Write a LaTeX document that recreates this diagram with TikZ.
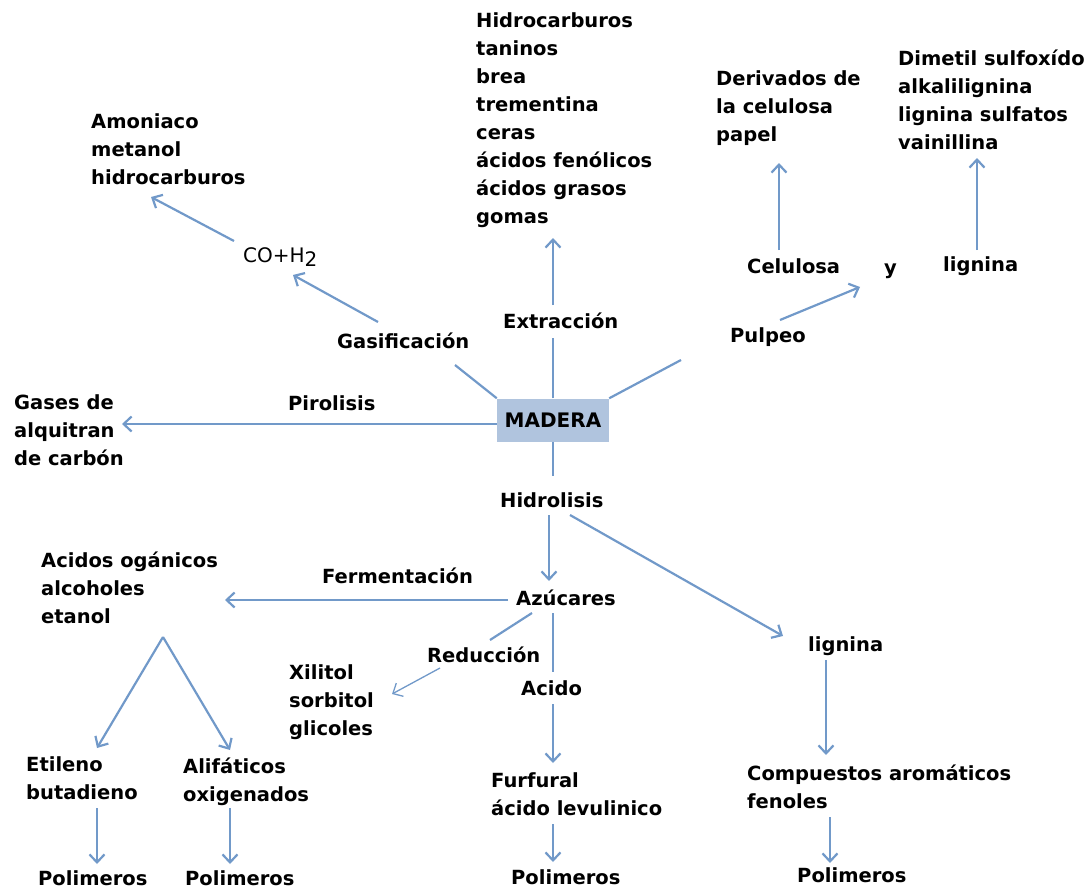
\documentclass[tikz,border=0pt]{standalone}
\usepackage{fontspec}
\setmainfont{DejaVu Sans}
\usepackage{xcolor}
\usetikzlibrary{arrows.meta,positioning,calc}

\definecolor{linkblue}{RGB}{113,153,201}
\definecolor{boxblue}{RGB}{176,196,222}

\tikzset{
    lbl/.style={anchor=west, inner sep=0pt, align=left, font=\fontsize{19.5}{28}\selectfont\bfseries},
    link/.style={draw=linkblue, line width=2.2pt},
    arr/.style={link, -{Straight Barb[length=8pt,width=15pt]}}
}

\begin{document}
\begin{tikzpicture}[x=1pt, y=-1pt]
    \useasboundingbox (0,0) rectangle (1088,891);

    \node[fill=boxblue, minimum width=112pt, minimum height=43pt, inner sep=0pt,
          font=\fontsize{20}{28}\selectfont\bfseries] (madera) at (553,420) {MADERA};

    % upper half
    \node[lbl] (gasif) at (337,341) {Gasificación};
    \node[lbl, font=\fontsize{20}{28}\selectfont] (coh) at (243,257) {CO+H\raisebox{-4pt}{2}};
    \node[lbl] (amon) at (91,149) {Amoniaco\\metanol\\hidrocarburos};
    \node[lbl] (extr) at (503,321) {Extracción};
    \node[lbl] (hidroc) at (476,120) {Hidrocarburos\\taninos\\brea\\trementina\\ceras\\ácidos fenólicos\\ácidos grasos\\gomas};
    \node[lbl] (pulp) at (730,337) {Pulpeo};
    \node[lbl] (cel) at (747,266) {Celulosa};
    \node[lbl] (yy) at (884,271) {y};
    \node[lbl] (lig) at (943,266) {lignina};
    \node[lbl] (deriv) at (716,108) {Derivados de\\la celulosa\\papel};
    \node[lbl] (dim) at (898,100) {Dimetil sulfoxído\\alkalilignina\\lignina sulfatos\\vainillina};
    \node[lbl] (piro) at (288,403) {Pirolisis};
    \node[lbl] (gases) at (14,430) {Gases de\\alquitran\\de carbón};

    % lower half
    \node[lbl] (hidrol) at (500,500) {Hidrolisis};
    \node[lbl] (ferm) at (322,576) {Fermentación};
    \node[lbl] (azuc) at (516,598) {Azúcares};
    \node[lbl] (acid) at (41,588) {Acidos ogánicos\\alcoholes\\etanol};
    \node[lbl] (reduc) at (427,655) {Reducción};
    \node[lbl] (xil) at (289,702) {Xilitol\\sorbitol\\glicoles};
    \node[lbl] (acido) at (521,688) {Acido};
    \node[lbl] (ligb) at (808,646) {lignina};
    \node[lbl] (etil) at (26,778) {Etileno\\butadieno};
    \node[lbl] (alif) at (183,782) {Alifáticos\\oxigenados};
    \node[lbl] (furf) at (491,794) {Furfural\\ácido levulinico};
    \node[lbl] (comp) at (747,787) {Compuestos aromáticos\\fenoles};
    \node[lbl] (pol1) at (38,878) {Polimeros};
    \node[lbl] (pol2) at (185,878) {Polimeros};
    \node[lbl] (pol3) at (511,877) {Polimeros};
    \node[lbl] (pol4) at (797,875) {Polimeros};

    \draw[link] (madera.north west) -- ($(gasif.west)+(118,24)$);
    \draw[arr] ($(gasif.west)+(41,-19)$) -- ($(coh.west)+(50,18)$);
    \draw[arr] ($(coh.west)+(-9,-16)$) -- ($(amon.west)+(60,48)$);
    \draw[link] (madera.north) -- ($(extr.west)+(50,17)$);
    \draw[arr] ($(extr.west)+(50,-16)$) -- ($(hidroc.west)+(77,118)$);
    \draw[link] (madera.north east) -- ($(pulp.west)+(-49,23)$);
    \draw[arr] ($(pulp.west)+(50,-17)$) -- ($(yy.west)+(-24,16)$);
    \draw[arr] ($(cel.west)+(32,-16)$) -- ($(deriv.west)+(63,55)$);
    \draw[arr] ($(lig.west)+(34,-16)$) -- ($(dim.west)+(79,58)$);
    \draw[arr] ($(madera.west)+(0,4)$) -- ($(gases.west)+(108,-6)$);

    \draw[link] (madera.south) -- ($(hidrol.west)+(53,-24)$);
    \draw[arr] ($(hidrol.west)+(49,15)$) -- ($(azuc.west)+(33,-17)$);
    \draw[arr] ($(hidrol.west)+(70,15)$) -- ($(ligb.west)+(-25,-10)$);
    \draw[arr] ($(azuc.west)+(-8,2)$) -- ($(acid.west)+(184,12)$);
    \draw[link] ($(azuc.west)+(16,15)$) -- ($(reduc.west)+(63,-15)$);
    \draw[arr, line width=1.3pt] ($(reduc.west)+(13,13)$) -- ($(xil.west)+(103,-8)$);
    \draw[link] ($(azuc.west)+(37,15)$) -- ($(acido.west)+(32,-16)$);
    \draw[arr] ($(acido.west)+(32,16)$) -- ($(furf.west)+(62,-31)$);
    \draw[arr] ($(acid.west)+(122,49)$) -- ($(etil.west)+(71,-30)$);
    \draw[arr] ($(acid.west)+(122,49)$) -- ($(alif.west)+(47,-32)$);
    \draw[arr] ($(etil.west)+(71,30)$) -- ($(pol1.west)+(59,-14)$);
    \draw[arr] ($(alif.west)+(47,26)$) -- ($(pol2.west)+(45,-14)$);
    \draw[arr] ($(furf.west)+(62,30)$) -- ($(pol3.west)+(42,-15)$);
    \draw[arr] ($(ligb.west)+(18,14)$) -- ($(comp.west)+(79,-32)$);
    \draw[arr] ($(comp.west)+(83,30)$) -- ($(pol4.west)+(33,-12)$);
\end{tikzpicture}
\end{document}
